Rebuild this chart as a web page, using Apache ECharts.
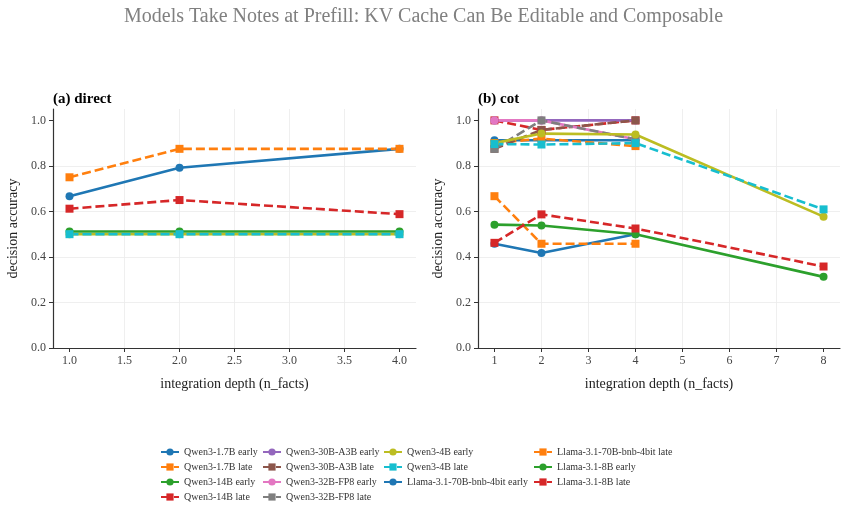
<!DOCTYPE html>
<html>
<head>
<meta charset="utf-8">
<script src="https://cdn.jsdelivr.net/npm/echarts@6/dist/echarts.min.js"></script>
<style>
  html, body { margin: 0; padding: 0; background: #fff; }
  #chart { width: 847px; height: 506px; }
</style>
</head>
<body>
<div id="chart"></div>
<script>
// x positions
const depthDirect = [1, 2, 4]
const depthCot = [1, 2, 4, 8]

// (a) direct
const directQwen17Early = [0.667, 0.792, 0.875]
const directQwen17Late = [0.75, 0.875, 0.875]
const directQwen14Early = [0.512, 0.512, 0.512]
const directQwen14Late = [0.612, 0.65, 0.588]
const directQwen4Early = [0.5, 0.5, 0.5]
const directQwen4Late = [0.5, 0.5, 0.5]

// (b) cot
const cotQwen17Early = [0.913, 0.913, 0.913]
const cotQwen17Late = [0.9, 0.92, 0.887]
const cotQwen14Late = [1.0, 0.958, 1.0]
const cotQwen30Early = [1.0, 1.0, 1.0]
const cotQwen30Late = [0.875, 0.958, 1.0]
const cotQwen32Early = [1.0, 1.0, 0.917]
const cotQwen32Late = [0.875, 1.0, 0.917]
const cotQwen4Early = [0.9, 0.942, 0.938, 0.577]
const cotQwen4Late = [0.896, 0.894, 0.9, 0.609]
const cotLlama70Early = [0.458, 0.417, 0.5]
const cotLlama70Late = [0.667, 0.458, 0.458]
const cotLlama8Early = [0.542, 0.538, 0.5, 0.3125]
const cotLlama8Late = [0.462, 0.587, 0.525, 0.358]

const legendCols = [
  ['Qwen3-1.7B early', 'Qwen3-1.7B late', 'Qwen3-14B early', 'Qwen3-14B late'],
  ['Qwen3-30B-A3B early', 'Qwen3-30B-A3B late', 'Qwen3-32B-FP8 early', 'Qwen3-32B-FP8 late'],
  ['Qwen3-4B early', 'Qwen3-4B late', 'Llama-3.1-70B-bnb-4bit early'],
  ['Llama-3.1-70B-bnb-4bit late', 'Llama-3.1-8B early', 'Llama-3.1-8B late'],
]
const colors = {
  'Qwen3-1.7B early': '#1f77b4', 'Qwen3-1.7B late': '#ff7f0e',
  'Qwen3-14B early': '#2ca02c', 'Qwen3-14B late': '#d62728',
  'Qwen3-30B-A3B early': '#9467bd', 'Qwen3-30B-A3B late': '#8c564b',
  'Qwen3-32B-FP8 early': '#e377c2', 'Qwen3-32B-FP8 late': '#7f7f7f',
  'Qwen3-4B early': '#bcbd22', 'Qwen3-4B late': '#17becf',
  'Llama-3.1-70B-bnb-4bit early': '#1f77b4', 'Llama-3.1-70B-bnb-4bit late': '#ff7f0e',
  'Llama-3.1-8B early': '#2ca02c', 'Llama-3.1-8B late': '#d62728',
}

const FONT = '"Liberation Serif", "DejaVu Serif", serif'

function pairs(xs, ys) {
  return ys.map((y, i) => [xs[i], y])
}

function makeSeries(name, panel, xs, ys) {
  const late = name.endsWith('late')
  return {
    name: name,
    type: 'line',
    xAxisIndex: panel,
    yAxisIndex: panel,
    data: pairs(xs, ys),
    symbol: late ? 'rect' : 'circle',
    symbolSize: 8,
    showSymbol: true,
    color: colors[name],
    itemStyle: { color: colors[name] },
    lineStyle: { width: 2.6, type: late ? [9, 4] : 'solid' },
    emphasis: { disabled: true },
    animation: false,
  }
}

const series = [
  makeSeries('Qwen3-1.7B early', 0, depthDirect, directQwen17Early),
  makeSeries('Qwen3-1.7B late', 0, depthDirect, directQwen17Late),
  makeSeries('Qwen3-14B early', 0, depthDirect, directQwen14Early),
  makeSeries('Qwen3-14B late', 0, depthDirect, directQwen14Late),
  makeSeries('Qwen3-4B early', 0, depthDirect, directQwen4Early),
  makeSeries('Qwen3-4B late', 0, depthDirect, directQwen4Late),

  makeSeries('Qwen3-1.7B early', 1, depthCot, cotQwen17Early),
  makeSeries('Qwen3-1.7B late', 1, depthCot, cotQwen17Late),
  makeSeries('Qwen3-14B late', 1, depthCot, cotQwen14Late),
  makeSeries('Qwen3-30B-A3B early', 1, depthCot, cotQwen30Early),
  makeSeries('Qwen3-30B-A3B late', 1, depthCot, cotQwen30Late),
  makeSeries('Qwen3-32B-FP8 early', 1, depthCot, cotQwen32Early),
  makeSeries('Qwen3-32B-FP8 late', 1, depthCot, cotQwen32Late),
  makeSeries('Qwen3-4B early', 1, depthCot, cotQwen4Early),
  makeSeries('Qwen3-4B late', 1, depthCot, cotQwen4Late),
  makeSeries('Llama-3.1-70B-bnb-4bit early', 1, depthCot, cotLlama70Early),
  makeSeries('Llama-3.1-70B-bnb-4bit late', 1, depthCot, cotLlama70Late),
  makeSeries('Llama-3.1-8B early', 1, depthCot, cotLlama8Early),
  makeSeries('Llama-3.1-8B late', 1, depthCot, cotLlama8Late),
]

function xAxis(grid, min, max, step, labels, fmt) {
  return {
    type: 'value',
    gridIndex: grid,
    min: min,
    max: max,
    minInterval: step,
    maxInterval: step,
    name: 'integration depth (n_facts)',
    nameLocation: 'middle',
    nameGap: 29,
    nameTextStyle: { fontFamily: FONT, fontSize: 14, color: '#222' },
    axisLine: { show: true, lineStyle: { color: '#333', width: 1.2 } },
    axisTick: { show: true, length: 4, customValues: labels, lineStyle: { color: '#333' } },
    axisLabel: { customValues: labels, formatter: fmt, fontFamily: FONT, fontSize: 12, color: '#444', margin: 7 },
    splitLine: { show: true, showMinLine: false, showMaxLine: false, lineStyle: { color: '#ebebeb', width: 0.8 } },
  }
}

const yTicks = [0, 0.2, 0.4, 0.6, 0.8, 1.0]
function yAxis(grid) {
  return {
    type: 'value',
    gridIndex: grid,
    min: 0,
    max: 1.05,
    minInterval: 0.2,
    maxInterval: 0.2,
    name: 'decision accuracy',
    nameLocation: 'middle',
    nameGap: 33,
    nameTextStyle: { fontFamily: FONT, fontSize: 14, color: '#222' },
    axisLine: { show: true, lineStyle: { color: '#333', width: 1.2 } },
    axisTick: { show: true, length: 4, customValues: yTicks, lineStyle: { color: '#333' } },
    axisLabel: { customValues: yTicks, formatter: v => v.toFixed(1), fontFamily: FONT, fontSize: 12, color: '#444', margin: 7 },
    splitLine: { show: true, showMinLine: false, showMaxLine: false, lineStyle: { color: '#ebebeb', width: 0.8 } },
  }
}

const legendLeft = [160, 262, 383, 533]
const legends = legendCols.map((col, i) => ({
  data: col,
  orient: 'vertical',
  left: legendLeft[i],
  top: 447,
  padding: 0,
  itemWidth: 18,
  itemHeight: 9,
  itemGap: 5,
  selectedMode: false,
  textStyle: { fontFamily: FONT, fontSize: 10, color: '#333' },
}))

const chart = echarts.init(document.getElementById('chart'), null, { renderer: 'canvas' })
chart.setOption({
  backgroundColor: '#fff',
  animation: false,
  title: [
    { text: 'Models Take Notes at Prefill: KV Cache Can Be Editable and Composable', left: 'center', top: 2,
      textStyle: { fontFamily: FONT, fontSize: 20, fontWeight: 'normal', color: '#808080' } },
    { text: '(a) direct', left: 48, top: 87, textStyle: { fontFamily: FONT, fontSize: 15, fontWeight: 'bold', color: '#000' } },
    { text: '(b) cot', left: 473, top: 87, textStyle: { fontFamily: FONT, fontSize: 15, fontWeight: 'bold', color: '#000' } },
  ],
  legend: legends,
  grid: [
    { left: 53, top: 109, width: 363, height: 239 },
    { left: 478, top: 109, width: 362, height: 239 },
  ],
  xAxis: [
    xAxis(0, 0.85, 4.15, 0.5, [1, 1.5, 2, 2.5, 3, 3.5, 4], v => v.toFixed(1)),
    xAxis(1, 0.65, 8.35, 1, [1, 2, 3, 4, 5, 6, 7, 8], v => String(v)),
  ],
  yAxis: [yAxis(0), yAxis(1)],
  series: series,
})
</script>
</body>
</html>
